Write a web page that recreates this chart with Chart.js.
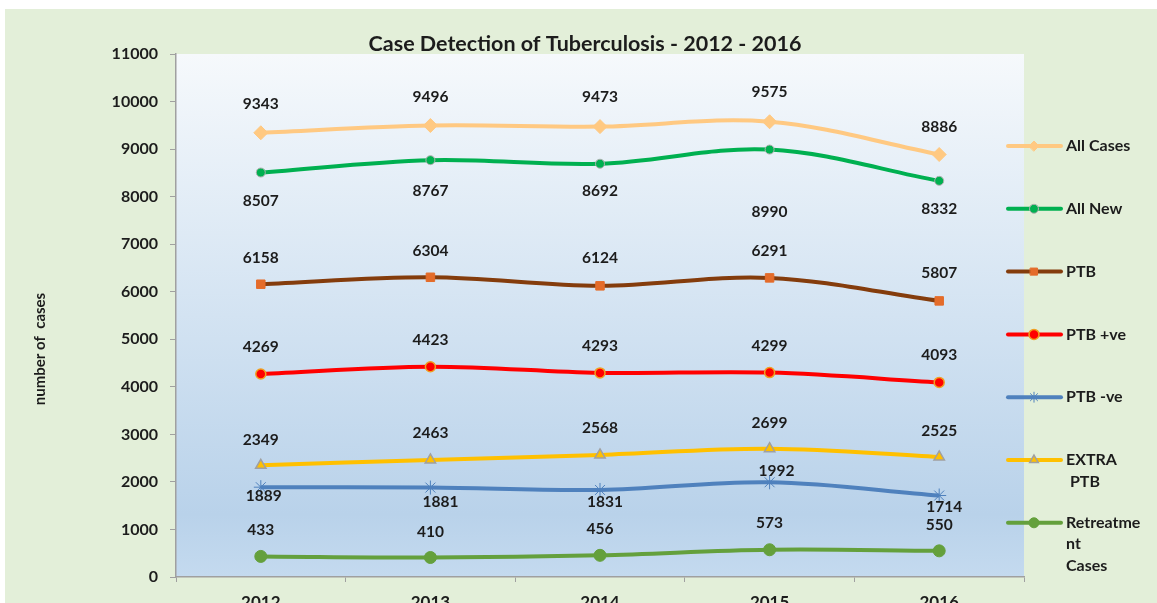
<!DOCTYPE html>
<html>
<head>
<meta charset="utf-8">
<script src="https://cdn.jsdelivr.net/npm/chart.js@4.4.1/dist/chart.umd.min.js"></script>
<style>
  html, body { margin: 0; padding: 0; overflow: hidden; background: #fff; }
  #wrap { position: relative; width: 1157px; height: 640px; }
</style>
</head>
<body>
<div id="wrap"><canvas id="myChart"></canvas></div>
<script>
// Case detection of TB
var years = ["2012", "2013", "2014", "2015", "2016"];
var allCases    = [9343, 9496, 9473, 9575, 8886];
var allNew      = [8507, 8767, 8692, 8990, 8332];
var ptb         = [6158, 6304, 6124, 6291, 5807];
var ptbPos      = [4269, 4423, 4293, 4299, 4093];
var ptbNeg      = [1889, 1881, 1831, 1992, 1714];
var extraPtb    = [2349, 2463, 2568, 2699, 2525];
var retreatment = [433, 410, 456, 573, 550];
var yTicks = [0, 1000, 2000, 3000, 4000, 5000, 6000, 7000, 8000, 9000, 10000, 11000];

var FONT = "Lato, 'Open Sans', 'Liberation Sans', sans-serif";
var TXT = "#1c1c1c";

function series(label, data, line, style) {
  return Object.assign({
    label: label,
    data: data,
    borderColor: line,
    borderWidth: 4,
    fill: false,
    tension: 0.35,
    pointBorderWidth: 1
  }, style);
}

var datasets = [
  series("All Cases", allCases, "#FFC982", {
    pointStyle: "rectRot", pointRadius: 7, pointBackgroundColor: "#FFC982", pointBorderColor: "#FFC982",
    legendText: ["All Cases"], labelDy: [-29, -29, -30, -30, -28], labelDx: [0, 0, 0, 0, 0]
  }),
  series("All New", allNew, "#00B050", {
    pointStyle: "circle", pointRadius: 4.5, pointBackgroundColor: "#00B050", pointBorderColor: "#B0B0B0",
    legendText: ["All New"], labelDy: [28, 31, 27, 62, 28], labelDx: [0, 0, 0, 0, 0]
  }),
  series("PTB", ptb, "#843C0C", {
    pointStyle: "rect", pointRadius: 6, pointBackgroundColor: "#E46C2A", pointBorderColor: "#E46C2A",
    legendText: ["PTB"], labelDy: [-26, -26, -28, -27, -28], labelDx: [0, 0, 0, 0, 0]
  }),
  series("PTB +ve", ptbPos, "#FF0000", {
    pointStyle: "circle", pointRadius: 5, pointBackgroundColor: "#FF0000", pointBorderColor: "#F0A020", pointBorderWidth: 1.5,
    legendText: ["PTB +ve"], labelDy: [-27, -27, -27, -27, -27], labelDx: [0, 0, 0, 0, 0]
  }),
  series("PTB -ve", ptbNeg, "#4F81BD", {
    pointStyle: "star", pointRadius: 7, pointBackgroundColor: "#4F81BD", pointBorderColor: "#4F81BD",
    legendText: ["PTB -ve"], labelDy: [9, 14, 12, -11, 11], labelDx: [3, 10, 5, 7, 5]
  }),
  series("EXTRA PTB", extraPtb, "#FFC000", {
    pointStyle: "triangle", pointRadius: 6, pointBackgroundColor: "#FFC000", pointBorderColor: "#A0A0A0", pointBorderWidth: 1.5,
    legendText: ["EXTRA", " PTB"], labelDy: [-25, -27, -27, -26, -26], labelDx: [0, 0, 0, 0, 0]
  }),
  series("Retreatment Cases", retreatment, "#64A03C", {
    pointStyle: "circle", pointRadius: 6, pointBackgroundColor: "#64A03C", pointBorderColor: "#64A03C",
    legendText: ["Retreatme", "nt", "Cases"], labelDy: [-26, -26, -26, -27, -26], labelDx: [0, 0, 0, 0, 0]
  })
];

// backgrounds: green frame + gradient plot area
var bgPlugin = {
  id: "bg",
  beforeDraw: function (chart) {
    var ctx = chart.ctx, a = chart.chartArea;
    ctx.save();
    ctx.fillStyle = "#ffffff";
    ctx.fillRect(0, 0, chart.width, chart.height);
    ctx.fillStyle = "#E3EFD9";
    ctx.fillRect(5, 9, chart.width - 5, chart.height - 9);
    var g = ctx.createLinearGradient(0, a.top, 0, a.bottom);
    g.addColorStop(0, "#F6F9FC");
    g.addColorStop(0.5, "#D3E3F2");
    g.addColorStop(0.88, "#B9D2EA");
    g.addColorStop(1, "#C4DAEF");
    ctx.fillStyle = g;
    ctx.fillRect(a.left, a.top, a.right - a.left, a.bottom - a.top);
    ctx.restore();
  }
};

// value labels beside each point
var labelPlugin = {
  id: "valueLabels",
  afterDatasetsDraw: function (chart) {
    var ctx = chart.ctx;
    ctx.save();
    ctx.font = "bold 15.5px " + FONT;
    ctx.fillStyle = TXT;
    ctx.textAlign = "center";
    ctx.textBaseline = "middle";
    chart.data.datasets.forEach(function (ds, i) {
      chart.getDatasetMeta(i).data.forEach(function (pt, j) {
        ctx.fillText(String(ds.data[j]), pt.x + ds.labelDx[j], pt.y + ds.labelDy[j]);
      });
    });
    ctx.restore();
  }
};

// title, y-axis title and the legend on the right
var decoPlugin = {
  id: "deco",
  afterDraw: function (chart) {
    var ctx = chart.ctx;
    ctx.save();
    ctx.fillStyle = TXT;
    ctx.textAlign = "center";
    ctx.textBaseline = "middle";
    ctx.font = "bold 21.5px " + FONT;
    ctx.fillText("Case Detection of Tuberculosis - 2012 - 2016", 585, 44);

    ctx.save();
    ctx.translate(40, 349);
    ctx.rotate(-Math.PI / 2);
    ctx.font = "bold 15px " + FONT;
    ctx.fillText("number of  cases", 0, 0);
    ctx.restore();

    ctx.textAlign = "left";
    ctx.font = "bold 16px " + FONT;
    chart.data.datasets.forEach(function (ds, i) {
      var y = 146 + i * 62.8;
      ctx.strokeStyle = ds.borderColor;
      ctx.lineWidth = 4;
      ctx.lineCap = "round";
      ctx.beginPath();
      ctx.moveTo(1008, y);
      ctx.lineTo(1061, y);
      ctx.stroke();
      if (Chart.helpers && Chart.helpers.drawPoint) {
        ctx.fillStyle = ds.pointBackgroundColor;
        ctx.strokeStyle = ds.pointBorderColor;
        ctx.lineWidth = ds.pointBorderWidth;
        Chart.helpers.drawPoint(ctx, {
          pointStyle: ds.pointStyle,
          radius: Math.min(ds.pointRadius, 5),
          borderWidth: ds.pointBorderWidth,
          rotation: 0
        }, 1034, y);
      }
      ctx.fillStyle = TXT;
      ds.legendText.forEach(function (t, k) {
        ctx.fillText(t, 1066, y + k * 21.5);
      });
    });
    ctx.restore();
  }
};

new Chart("myChart", {
  type: "line",
  data: { labels: years, datasets: datasets },
  plugins: [bgPlugin, labelPlugin, decoPlugin],
  options: {
    responsive: true,
    maintainAspectRatio: false,
    animation: false,
    layout: { padding: { top: 54, right: 133, left: 0, bottom: 0 } },
    plugins: {
      legend: { display: false },
      title: { display: false },
      tooltip: { enabled: false }
    },
    scales: {
      x: {
        offset: true,
        afterFit: function (s) { s.height = 63; },
        border: { color: "#A0A0A0", width: 1.5 },
        grid: { drawOnChartArea: false, tickLength: 5, color: "#A0A0A0", offset: true },
        ticks: { color: TXT, padding: 10, font: { family: FONT, size: 17, weight: "bold" } }
      },
      y: {
        min: 0,
        max: 11000,
        afterFit: function (s) { s.width = 176; },
        afterBuildTicks: function (s) { s.ticks = yTicks.map(function (v) { return { value: v }; }); },
        border: { color: "#A0A0A0", width: 1.5 },
        grid: { drawOnChartArea: false, tickLength: 6, color: "#A0A0A0" },
        ticks: {
          color: TXT, padding: 12, font: { family: FONT, size: 16, weight: "bold" },
          callback: function (v) { return String(v); }
        }
      }
    }
  }
});
</script>
</body>
</html>
